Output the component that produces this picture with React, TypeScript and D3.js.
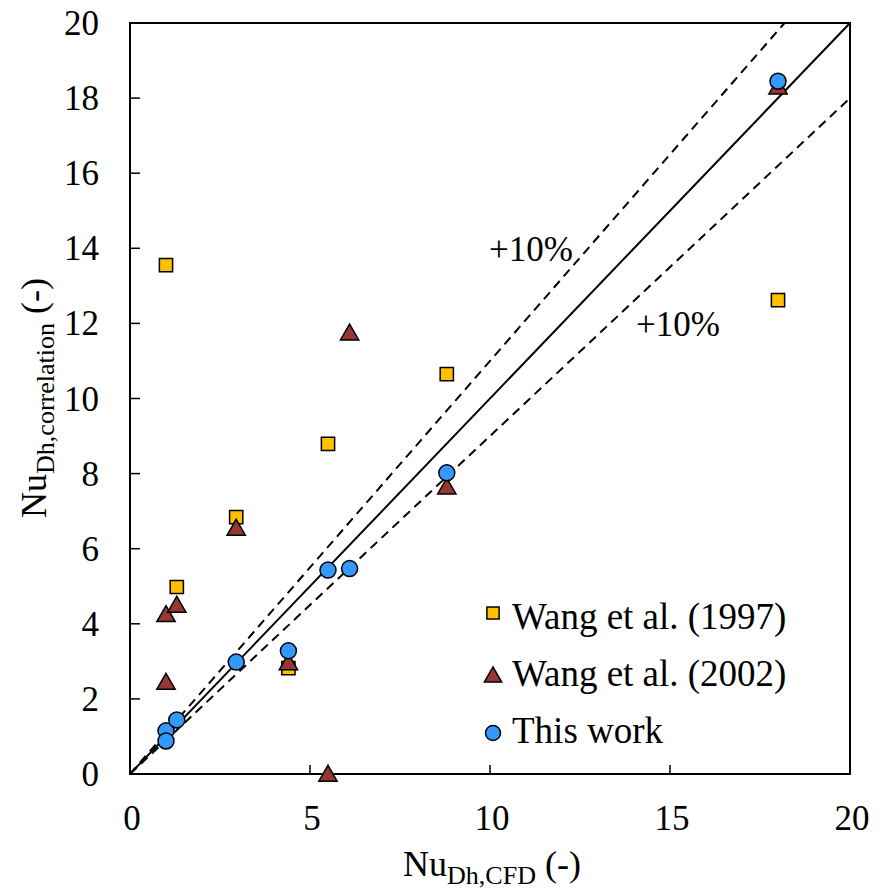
import React, { useEffect, useRef } from 'react';
import * as d3 from 'd3';

// Nu_Dh,CFD (x) vs Nu_Dh,correlation (y)
const wang1997X = [1.0, 1.3, 2.95, 4.4, 5.5, 8.8, 18.0];
const wang1997Y = [13.55, 4.98, 6.84, 2.82, 8.79, 10.65, 12.62];

const wang2002X = [1.0, 1.3, 1.0, 2.95, 4.4, 5.5, 6.1, 8.8, 18.0];
const wang2002Y = [4.2, 4.45, 2.4, 6.5, 2.92, -0.05, 11.7, 7.6, 18.25];

const thisWorkX = [1.0, 1.0, 1.3, 2.95, 4.4, 5.5, 6.1, 8.8, 18.0];
const thisWorkY = [1.15, 0.88, 1.44, 2.98, 3.28, 5.43, 5.47, 8.02, 18.45];

const xTicks = [0, 5, 10, 15, 20];
const yTicks = [0, 2, 4, 6, 8, 10, 12, 14, 16, 18, 20];

const legendLabels = ['Wang et al. (1997)', 'Wang et al. (2002)', 'This work'];

const FONT = '"Liberation Serif", "Times New Roman", serif';

const App = () => {
    const ref = useRef<SVGSVGElement | null>(null);

    useEffect(() => {
        if (!ref.current) return;
        const svg = d3.select(ref.current);
        svg.selectAll('*').remove();

        const left = 130, right = 850, top = 23, bottom = 774;

        const x = d3.scaleLinear().domain([0, 20]).range([left, right]);
        const y = d3.scaleLinear().domain([0, 20]).range([bottom, top]);

        // frame
        svg.append('rect')
            .attr('x', left).attr('y', top)
            .attr('width', right - left).attr('height', bottom - top)
            .attr('fill', 'none').attr('stroke', '#000').attr('stroke-width', 2);

        // inward ticks
        svg.selectAll('.xt').data(xTicks.slice(1, -1)).enter().append('line')
            .attr('x1', d => x(d)).attr('x2', d => x(d))
            .attr('y1', bottom).attr('y2', bottom - 9)
            .attr('stroke', '#000').attr('stroke-width', 1.5);
        svg.selectAll('.yt').data(yTicks.slice(1, -1)).enter().append('line')
            .attr('x1', left).attr('x2', left + 10)
            .attr('y1', d => y(d)).attr('y2', d => y(d))
            .attr('stroke', '#000').attr('stroke-width', 1.5);

        // tick labels
        svg.selectAll('.xl').data(xTicks).enter().append('text')
            .attr('x', d => x(d) + 2).attr('y', 830)
            .attr('text-anchor', 'middle')
            .style('font-family', FONT).style('font-size', '35px')
            .text(d => d);
        svg.selectAll('.yl').data(yTicks).enter().append('text')
            .attr('x', 99).attr('y', d => y(d) + 12)
            .attr('text-anchor', 'end')
            .style('font-family', FONT).style('font-size', '35px')
            .text(d => d);

        // axis titles
        const xt = svg.append('text')
            .attr('x', 492).attr('y', 876)
            .attr('text-anchor', 'middle')
            .style('font-family', FONT).style('font-size', '36px');
        xt.append('tspan').text('Nu');
        xt.append('tspan').attr('dy', 8).style('font-size', '26px').text('Dh,CFD');
        xt.append('tspan').attr('dy', -8).text(' (-)');

        const yt = svg.append('text')
            .attr('transform', 'translate(46,398) rotate(-90)')
            .attr('text-anchor', 'middle')
            .style('font-family', FONT).style('font-size', '36px');
        yt.append('tspan').text('Nu');
        yt.append('tspan').attr('dy', 8).style('font-size', '26px').text('Dh,correlation');
        yt.append('tspan').attr('dy', -8).text(' (-)');

        // parity lines
        const line = d3.line<[number, number]>().x(d => x(d[0])).y(d => y(d[1]));
        svg.append('path').datum([[0, 0], [20, 20]] as [number, number][])
            .attr('d', line).attr('stroke', '#000').attr('stroke-width', 2).attr('fill', 'none');
        svg.append('path').datum([[0, 0], [20 / 1.1, 20]] as [number, number][])
            .attr('d', line).attr('stroke', '#000').attr('stroke-width', 2)
            .attr('stroke-dasharray', '9,6').attr('fill', 'none');
        svg.append('path').datum([[0, 0], [20, 18]] as [number, number][])
            .attr('d', line).attr('stroke', '#000').attr('stroke-width', 2)
            .attr('stroke-dasharray', '9,6').attr('fill', 'none');

        svg.append('text').attr('x', 489).attr('y', 261)
            .style('font-family', FONT).style('font-size', '35px').text('+10%');
        svg.append('text').attr('x', 636).attr('y', 336)
            .style('font-family', FONT).style('font-size', '35px').text('+10%');

        const sq = d3.symbol().type(d3.symbolSquare).size(175);
        const tri = d3.symbol().type(d3.symbolTriangle).size(145);

        // Wang 1997
        svg.selectAll('.s').data(wang1997X).enter().append('path')
            .attr('d', sq)
            .attr('transform', (d, i) => `translate(${x(d)},${y(wang1997Y[i])})`)
            .attr('fill', '#FFC000').attr('stroke', '#000').attr('stroke-width', 1.5);

        // Wang 2002
        svg.selectAll('.t').data(wang2002X).enter().append('path')
            .attr('d', tri)
            .attr('transform', (d, i) => `translate(${x(d)},${y(wang2002Y[i])})`)
            .attr('fill', '#953735').attr('stroke', '#000').attr('stroke-width', 1.5);

        // This work
        svg.selectAll('.c').data(thisWorkX).enter().append('circle')
            .attr('cx', d => x(d)).attr('cy', (d, i) => y(thisWorkY[i]))
            .attr('r', 8)
            .attr('fill', '#3399FF').attr('stroke', '#000').attr('stroke-width', 1.5);

        // legend
        const ly = [613, 677, 733];
        const lt = [629, 686, 743];
        const sqL = d3.symbol().type(d3.symbolSquare).size(150);
        const triL = d3.symbol().type(d3.symbolTriangle).size(130);
        svg.append('path').attr('d', sqL).attr('transform', `translate(493,${ly[0]})`)
            .attr('fill', '#FFC000').attr('stroke', '#000').attr('stroke-width', 1.5);
        svg.append('path').attr('d', triL).attr('transform', `translate(493,${ly[1]})`)
            .attr('fill', '#953735').attr('stroke', '#000').attr('stroke-width', 1.5);
        svg.append('circle').attr('cx', 493).attr('cy', ly[2]).attr('r', 7.5)
            .attr('fill', '#3399FF').attr('stroke', '#000').attr('stroke-width', 1.5);
        svg.selectAll('.lg').data(legendLabels).enter().append('text')
            .attr('x', 512).attr('y', (d, i) => lt[i])
            .style('font-family', FONT).style('font-size', '37px')
            .text(d => d);
    }, []);

    return (
        <svg ref={ref} width={892} height={893}
            style={{ position: 'absolute', left: 0, top: 0, background: '#fff' }} />
    );
};

export default App;
